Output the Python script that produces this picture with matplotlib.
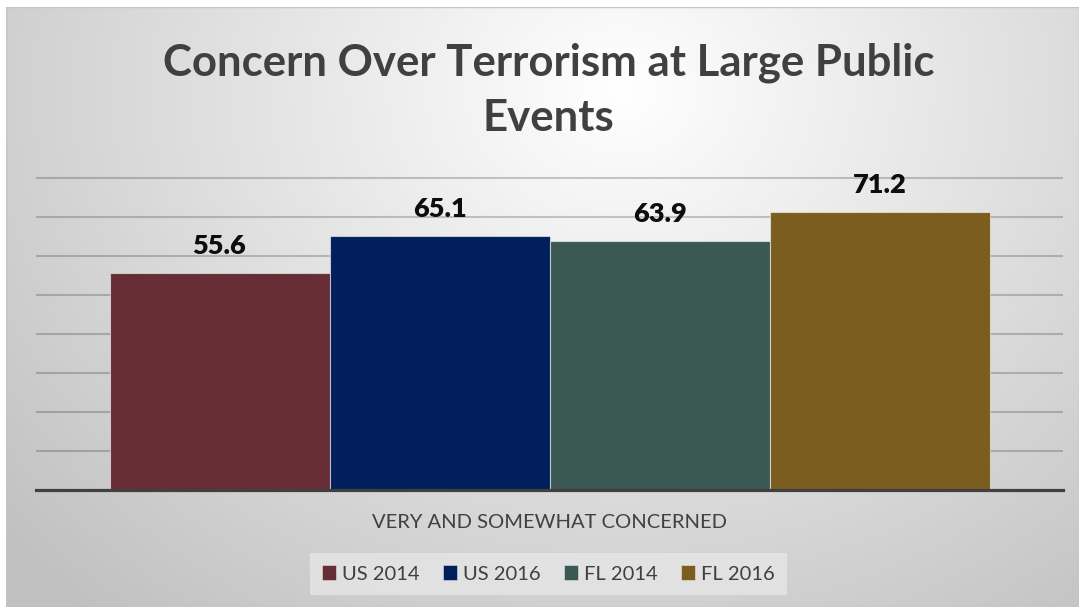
import numpy as np
import matplotlib
matplotlib.use("Agg")
import matplotlib.pyplot as plt
from matplotlib.patches import Patch, Rectangle

# ---- data ----
category = "VERY AND SOMEWHAT CONCERNED"
series = ["US 2014", "US 2016", "FL 2014", "FL 2016"]
values = [55.6, 65.1, 63.9, 71.2]
colors = ["#662e34", "#001f5b", "#3c5852", "#7b5d20"]
title = "Concern Over Terrorism at Large Public\nEvents"

plt.rcParams["font.family"] = ["Lato", "DejaVu Sans"]

W, H = 1079, 607
fig = plt.figure(figsize=(W / 100, H / 100), dpi=100)
fig.patch.set_facecolor("white")

# ---- soft radial background ----
x0, y0 = 6, 7
bg = fig.add_axes([x0 / W, 0, (W - x0) / W, (H - y0) / H])
bg.set_axis_off()
yy, xx = np.mgrid[y0:H, x0:W].astype(float)
cx, cy = 620.0, 90.0
d = np.sqrt(((xx - cx) / 760.0) ** 2 + ((yy - cy) / 640.0) ** 2)
g = np.clip(255 - 58 * d, 192, 255) / 255.0
bg.imshow(np.dstack([g, g, g]), aspect="auto", extent=[0, 1, 0, 1],
          interpolation="bilinear")
bg.add_patch(Rectangle((0, 0), 1, 1, transform=bg.transAxes, fill=False,
                       edgecolor="#c4c4c4", lw=1.0))

# ---- plot area ----
px_per_unit = 3.9
base_px = 490
ymax = 80.5
top_px = base_px - ymax * px_per_unit
left_px, right_px = 36, 1063
ax = fig.add_axes([left_px / W, 1 - base_px / H,
                   (right_px - left_px) / W, (base_px - top_px) / H])
ax.set_facecolor("none")
ax.set_xlim(-0.5, 0.5)
ax.set_ylim(0, ymax)

bar_w = 220 / (right_px - left_px)
offsets = [(i - 1.5) * bar_w for i in range(len(series))]

ax.set_yticks(np.arange(10, 81, 10))
ax.yaxis.grid(True, color="black", alpha=0.2, lw=1.5)
ax.set_axisbelow(True)
ax.tick_params(left=False, bottom=False, labelleft=False, labelbottom=False)
for s in ["top", "left", "right"]:
    ax.spines[s].set_visible(False)
ax.spines["bottom"].set_color("#404040")
ax.spines["bottom"].set_linewidth(2.3)

for off, v, c, name in zip(offsets, values, colors, series):
    ax.bar(off, v, width=bar_w, color=c, edgecolor=(1, 1, 1, 0.55),
           linewidth=0.8, label=name, zorder=2)
    ax.annotate(f"{v:.1f}", xy=(off, v), xytext=(0, 13.7),
                textcoords="offset points", ha="center", va="baseline",
                fontsize=19.5, fontweight="heavy", color="#0d0d0d")

# ---- texts ----
fig.text(548.5 / W, 1 - 131 / H, title, ha="center", va="baseline",
         fontsize=31.5, fontweight="bold", color="#404040", linespacing=1.45)
fig.text(549 / W, 1 - 528 / H, category, ha="center", va="baseline",
         fontsize=14.5, color="#404040")

handles = [Patch(facecolor=c, edgecolor=(1, 1, 1, 0.5), lw=0.6) for c in colors]
leg = fig.legend(handles, series, loc="center", ncol=4,
                 bbox_to_anchor=(548.5 / W, 1 - 574 / H),
                 fontsize=14.5, frameon=True, fancybox=False,
                 handlelength=0.7, handleheight=0.7, handletextpad=0.3,
                 columnspacing=1.15, borderpad=0.6)
leg.get_frame().set_facecolor("#e6e6e6")
leg.get_frame().set_edgecolor("none")
leg.get_frame().set_alpha(0.8)
for t in leg.get_texts():
    t.set_color("#404040")

fig.savefig("out.png", dpi=100)
